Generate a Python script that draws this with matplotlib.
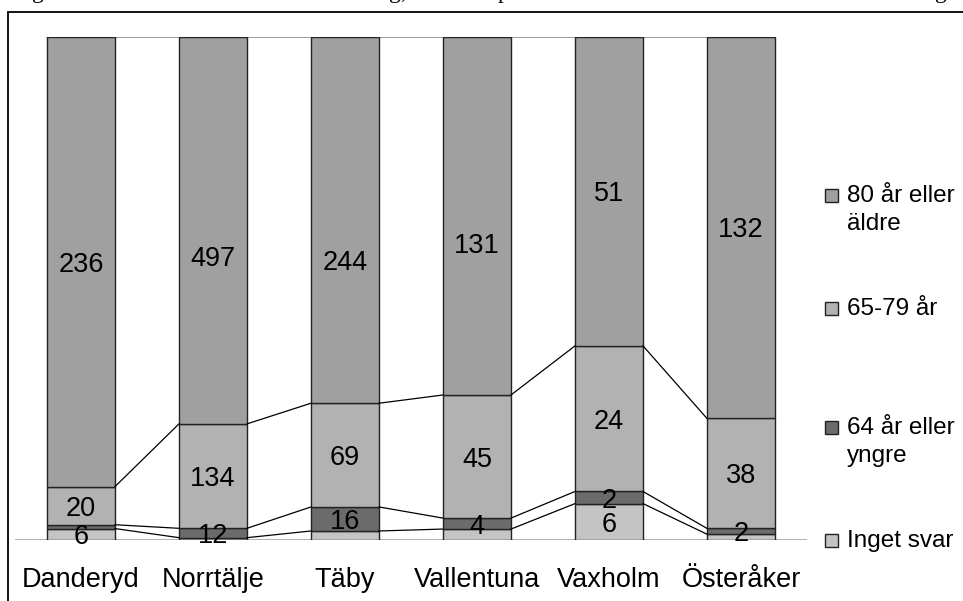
import matplotlib
matplotlib.use("Agg")
import matplotlib.pyplot as plt
from matplotlib.patches import Rectangle
import numpy as np

plt.rcParams['font.family'] = ['Liberation Sans', 'DejaVu Sans']

kommuner = ["Danderyd", "Norrtälje", "Täby", "Vallentuna", "Vaxholm", "Österåker"]
series_names = ["Inget svar", "64 år eller\nyngre", "65-79 år", "80 år eller\näldre"]
inget_svar = [6, 3, 6, 4, 6, 2]
yngre_64 = [2, 12, 16, 4, 2, 2]
ar_65_79 = [20, 134, 69, 45, 24, 38]
aldre_80 = [236, 497, 244, 131, 51, 132]
# which segments carry a value label
show_inget = [True, False, False, False, True, False]
show_yngre = [False, True, True, True, True, True]
show_6579 = [True] * 6
show_80 = [True] * 6
# extra downward shift (pixels) of the top-segment labels that were moved by hand
shift_80 = [0, 26, 40, 27, 0, 0]

colors = ["#c4c4c4", "#6b6b6b", "#b2b2b2", "#a0a0a0"]

data = np.array([inget_svar, yngre_64, ar_65_79, aldre_80], dtype=float)
shows = [show_inget, show_yngre, show_6579, show_80]
share = data / data.sum(axis=0) * 100
cum = np.vstack([np.zeros(len(kommuner)), np.cumsum(share, axis=0)])

W, H = 963, 601
fig = plt.figure(figsize=(W / 100, H / 100), dpi=100)

# outer frame of the chart object
fig.add_artist(Rectangle((8 / W, -0.1), 1.2, (H - 12) / H + 0.1, transform=fig.transFigure,
                         fill=False, edgecolor="black", linewidth=1.3))

# descenders of the text line above the chart
for xp, s in [(38, "g"), (398, "g,"), (503, "p"), (941, "g")]:
    fig.text(xp / W, 1 + 2.0 / H, s, family="Liberation Serif", fontsize=17,
             ha="center", va="baseline")

ax_h = 503.5
ax = fig.add_axes([15 / W, (H - 540) / H, 792 / W, ax_h / H])
ax.set_xlim(-0.5, len(kommuner) - 0.5)
ax.set_ylim(0, 100)
for s in ax.spines.values():
    s.set_visible(False)
ax.set_xticks([])
ax.set_yticks([])

x = np.arange(len(kommuner))
bw = 68 / 132
px = 100 / ax_h  # one pixel in axis units

ax.axhline(0, color="#b4b4b4", linewidth=1.5, zorder=1)
ax.plot([x[0] - bw / 2, x[-1] + bw / 2], [100, 100], color="#8c8c8c", linewidth=1.2, zorder=1)

for i in range(4):
    ax.bar(x, share[i], bottom=cum[i], width=bw, color=colors[i], edgecolor="#222222",
           linewidth=1.0, zorder=2, label=series_names[i])
    for j in range(len(kommuner)):
        if shows[i][j]:
            yc = cum[i][j] + share[i][j] / 2 - 3 * px
            if i == 3:
                yc -= shift_80[j] * px
            ax.text(x[j], yc, str(int(data[i][j])),
                    ha="center", va="center", fontsize=19.5, color="black", zorder=4)

# series lines between neighbouring bars
for level in cum[1:4]:
    for j in range(len(kommuner) - 1):
        ax.plot([x[j] + bw / 2, x[j + 1] - bw / 2], [level[j], level[j + 1]],
                color="black", linewidth=0.9, zorder=3)

for j, name in enumerate(kommuner):
    ax.text(x[j], -7.9, name, ha="center", va="center", fontsize=19.5)

# legend
leg_items = [(3, 195), (2, 308), (1, 427), (0, 540)]
for idx, ypix in leg_items:
    fig.add_artist(Rectangle((825 / W, 1 - (ypix + 7) / H), 13 / W, 13 / H,
                             transform=fig.transFigure, facecolor=colors[idx],
                             edgecolor="#222222", linewidth=1.0))
    if "\n" in series_names[idx]:
        fig.text(847 / W, 1 - (ypix + 15) / H, series_names[idx], fontsize=17.5,
                 ha="left", va="center", linespacing=1.38)
    else:
        fig.text(847 / W, 1 - (ypix + 1) / H, series_names[idx], fontsize=17.5,
                 ha="left", va="center")

fig.savefig("out.png", dpi=100)
